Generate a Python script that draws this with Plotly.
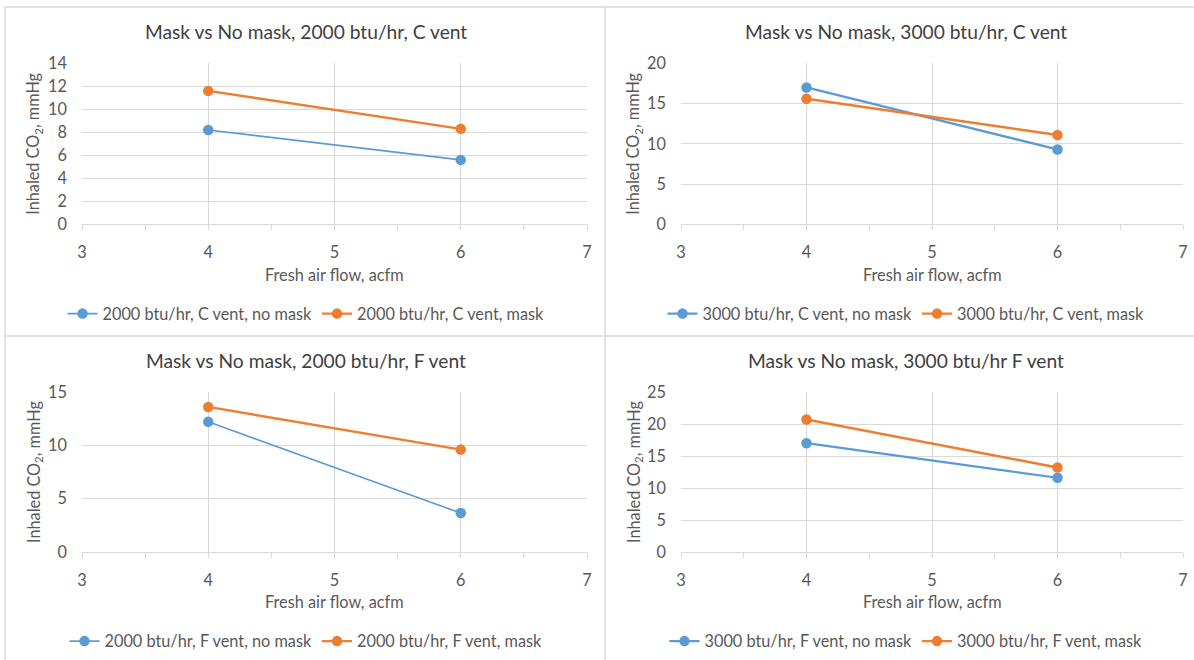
import plotly.graph_objects as go

W, H = 1194, 660

flow = [4, 6]
c2000_nomask = [8.2, 5.6]
c2000_mask = [11.6, 8.3]
c3000_nomask = [17.0, 9.3]
c3000_mask = [15.6, 11.1]
f2000_nomask = [12.2, 3.65]
f2000_mask = [13.6, 9.6]
f3000_nomask = [17.0, 11.6]
f3000_mask = [20.7, 13.2]

titles = ["Mask vs No mask, 2000 btu/hr, C vent",
          "Mask vs No mask, 3000 btu/hr, C vent",
          "Mask vs No mask, 2000 btu/hr, F vent",
          "Mask vs No mask, 3000 btu/hr F vent"]
names_nomask = ["2000 btu/hr, C vent, no mask", "3000 btu/hr, C vent, no mask",
                "2000 btu/hr, F vent, no mask", "3000 btu/hr, F vent, no mask"]
names_mask = ["2000 btu/hr, C vent, mask", "3000 btu/hr, C vent, mask",
              "2000 btu/hr, F vent, mask", "3000 btu/hr, F vent, mask"]
y_max = [14, 20, 15, 25]
y_dtick = [2, 5, 5, 5]
x_range = [3, 7]
x_title = "Fresh air flow, acfm"
y_title = "Inhaled CO<sub>2</sub>, mmHg"

series_nomask = [c2000_nomask, c3000_nomask, f2000_nomask, f3000_nomask]
series_mask = [c2000_mask, c3000_mask, f2000_mask, f3000_mask]

BLUE = "#5B9BD5"
ORANGE = "#ED7D31"
GRID = "#d9d9d9"
TXT = "#595959"
FONT = "Lato"
FS = 16.3

blue_w = [1.6, 2.4, 1.6, 2.2]

# pixel geometry of panels (left, right, top, bottom of plot area)
px = [(82, 587), (681, 1183), (82, 587), (681, 1183)]
py = [(63.3, 224.3), (63.3, 224.3), (392, 552), (392, 552)]
panel_cx = [306, 906, 306, 906]
title_y = [31.7, 31.7, 360.7, 360.7]
xt_y = [274, 274, 601.5, 601.5]
leg_y = [314, 314, 641.5, 641.5]
yt_x = [34, 634, 34, 634]

fig = go.Figure()
annotations = []
layout = {}
for i in range(4):
    k = "" if i == 0 else str(i + 1)
    leg = "legend" + k
    fig.add_trace(go.Scatter(
        x=flow, y=series_nomask[i], mode="lines+markers", name=names_nomask[i],
        line=dict(color=BLUE, width=blue_w[i]), marker=dict(size=10.5, color=BLUE),
        xaxis="x" + k, yaxis="y" + k, legend=leg))
    fig.add_trace(go.Scatter(
        x=flow, y=series_mask[i], mode="lines+markers", name=names_mask[i],
        line=dict(color=ORANGE, width=2.4), marker=dict(size=10.5, color=ORANGE),
        xaxis="x" + k, yaxis="y" + k, legend=leg))
    x0, x1 = px[i]
    y0, y1 = py[i]
    layout["xaxis" + k] = dict(
        domain=[x0 / W, x1 / W], range=x_range, dtick=1, anchor="y" + k,
        showgrid=True, gridcolor=GRID, gridwidth=1, zeroline=False,
        showline=True, linecolor=GRID, linewidth=1,
        ticks="outside", ticklen=5, tickcolor=GRID,
        minor=dict(dtick=0.5, ticks="outside", ticklen=5, tickcolor=GRID, showgrid=False),
        tickfont=dict(family=FONT, size=FS, color=TXT), ticklabelstandoff=8,
        automargin=False, fixedrange=True)
    layout["yaxis" + k] = dict(
        domain=[1 - y1 / H, 1 - y0 / H], range=[0, y_max[i]], dtick=y_dtick[i],
        anchor="x" + k, showgrid=True, gridcolor=GRID, gridwidth=1, zeroline=False,
        showline=False, ticks="", tickfont=dict(family=FONT, size=FS, color=TXT),
        ticklabelstandoff=14, automargin=False, fixedrange=True)
    layout[leg] = dict(
        orientation="h", x=panel_cx[i] / W, xanchor="center",
        y=1 - leg_y[i] / H, yanchor="middle", bgcolor="rgba(0,0,0,0)",
        font=dict(family=FONT, size=FS, color=TXT), itemwidth=30,
        tracegroupgap=0)
    annotations.append(dict(
        text=titles[i], xref="paper", yref="paper", x=panel_cx[i] / W, y=1 - title_y[i] / H,
        xanchor="center", yanchor="middle", showarrow=False,
        font=dict(family=FONT, size=19.2, color="#404040")))
    annotations.append(dict(
        text=x_title, xref="paper", yref="paper", x=(x0 + x1) / 2 / W, y=1 - xt_y[i] / H,
        xanchor="center", yanchor="middle", showarrow=False,
        font=dict(family=FONT, size=FS, color=TXT)))
    annotations.append(dict(
        text=y_title, xref="paper", yref="paper", x=yt_x[i] / W, y=1 - (y0 + y1) / 2 / H,
        xanchor="center", yanchor="middle", showarrow=False, textangle=-90,
        font=dict(family=FONT, size=FS, color=TXT)))

def hline(y, xa, xb):
    return dict(type="line", xref="paper", yref="paper", x0=xa / W, x1=xb / W,
                y0=1 - y / H, y1=1 - y / H, line=dict(color=GRID, width=1.5))

def vline(x, ya, yb):
    return dict(type="line", xref="paper", yref="paper", x0=x / W, x1=x / W,
                y0=1 - ya / H, y1=1 - yb / H, line=dict(color=GRID, width=1.5))

shapes = [hline(7, 5, W), hline(336, 5, W), vline(5, 7, H), vline(605, 7, H)]

fig.update_layout(
    width=W, height=H,
    margin=dict(l=0, r=0, t=0, b=0, pad=0, autoexpand=False),
    paper_bgcolor="white", plot_bgcolor="white",
    annotations=annotations, shapes=shapes, **layout)

fig.write_html("out.html", config={"displayModeBar": False, "responsive": False})

# remove the browser's default page margin so the figure sits at the window origin
with open("out.html", encoding="utf-8") as f:
    html = f.read()
html = html.replace("<head>", "<head><style>html,body{margin:0;padding:0;overflow:hidden;}</style>", 1)
with open("out.html", "w", encoding="utf-8") as f:
    f.write(html)
